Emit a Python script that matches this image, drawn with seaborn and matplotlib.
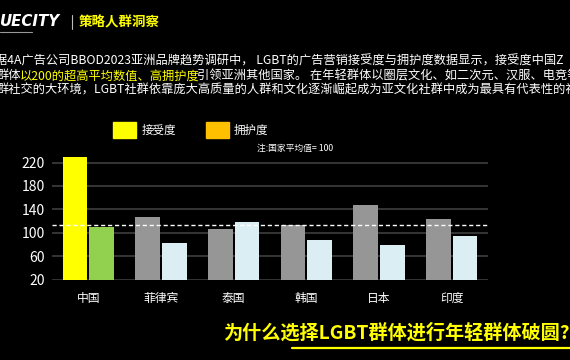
import pandas as pd
import seaborn as sns
import matplotlib.pyplot as plt
from matplotlib.patches import Patch
from matplotlib.lines import Line2D

# data
countries = ['中国', '菲律宾', '泰国', '韩国', '日本', '印度']
accept = [230, 126, 107, 113, 147, 123]
support = [110, 82, 118, 88, 79, 95]
avg_line = 114
yticks = [20, 60, 100, 140, 180, 220]

YELLOW = '#FFFF00'
ORANGE = '#FFC000'
GREEN = '#92D050'
GREY = '#969696'
LIGHT = '#DAEEF3'

df = pd.DataFrame({
    '国家': countries * 2,
    '指标': ['接受度'] * len(countries) + ['拥护度'] * len(countries),
    '值': accept + support,
})

sns.set_theme(style='dark')
plt.rcParams['font.family'] = ['Noto Sans CJK SC', 'DejaVu Sans']

fig = plt.figure(figsize=(5.7, 3.6), dpi=100)
fig.patch.set_facecolor('black')
ax = fig.add_axes([52 / 570, 0.2236, 436 / 570, 0.3575])
ax.set_facecolor('black')

sns.barplot(data=df, x='国家', y='值', hue='指标', palette=[GREY, LIGHT],
            width=0.74, gap=0.08, legend=False, ax=ax, saturation=1, linewidth=0)

# China gets its own colours
for p in ax.patches:
    cx = p.get_x() + p.get_width() / 2
    if cx < 0.5:
        p.set_facecolor(YELLOW if cx < 0 else GREEN)

ax.set_ylim(20, 240)
ax.set_xlim(-0.5, len(countries) - 0.5)
ax.set_yticks(yticks)
for v in yticks:
    ax.axhline(v, color='#3e3e3e', lw=1.2, zorder=0)
ax.axhline(avg_line, color='white', lw=1, ls=(0, (3, 2)), zorder=3)

ax.set_xlabel('')
ax.set_ylabel('')
ax.grid(False)
for s in ax.spines.values():
    s.set_visible(False)
ax.tick_params(axis='y', length=0, pad=5, labelsize=10, labelcolor='white')
ax.tick_params(axis='x', length=0, pad=9, labelsize=8.5, labelcolor='white')
for lab in ax.get_xticklabels():
    lab.set_fontweight('medium')

# legend
fig.legend(handles=[Patch(color=YELLOW, label='接受度'), Patch(color=ORANGE, label='拥护度')],
           loc='center left', bbox_to_anchor=(113 / 570, 1 - 130 / 360), ncol=2,
           frameon=False, fontsize=8.3, labelcolor='white', handlelength=2.0,
           handleheight=1.7, handletextpad=0.45, columnspacing=2.6,
           borderpad=0, borderaxespad=0)
fig.text(257 / 570, 1 - 148 / 360, '注:国家平均值= 100', color='white', fontsize=6.3,
         va='center', ha='left')

# header
fig.text(0, 1 - 22 / 360, 'UECITY', color='white', fontsize=10.8, fontweight='bold',
         fontstyle='italic', family='DejaVu Sans', va='center', ha='left')
fig.add_artist(Line2D([72 / 570, 72 / 570], [1 - 15 / 360, 1 - 29 / 360], color='#bbbbbb', lw=0.8))
fig.text(79 / 570, 1 - 22 / 360, '策略人群洞察', color=YELLOW, fontsize=9.7, fontweight='bold',
         va='center', ha='left')
fig.add_artist(Line2D([0, 32 / 570], [1 - 32 / 360, 1 - 32 / 360], color='#999999', lw=0.8))

# body text, the middle line has a yellow part
fs = 8.8
fw = 'medium'
fig.text(-5 / 570, 1 - 61 / 360,
         '据4A广告公司BBOD2023亚洲品牌趋势调研中， LGBT的广告营销接受度与拥护度数据显示，接受度中国Z',
         color='white', fontsize=fs, fontweight=fw, va='center', ha='left')
renderer = fig.canvas.get_renderer()
x = -3 / 570
for part, col in [('群体', 'white'), ('以200的超高平均数值、高拥护度', YELLOW),
                  ('引领亚洲其他国家。 在年轻群体以圈层文化、如二次元、汉服、电竞等', 'white')]:
    t = fig.text(x, 1 - 76 / 360, part, color=col, fontsize=fs, fontweight=fw,
                 va='center', ha='left')
    x += (t.get_window_extent(renderer).width - 2) / fig.bbox.width
fig.text(-3 / 570, 1 - 90 / 360,
         '群社交的大环境，LGBT社群依靠庞大高质量的人群和文化逐渐崛起成为亚文化社群中成为最具有代表性的社',
         color='white', fontsize=fs, fontweight=fw, va='center', ha='left')

# bottom title
fig.text(223 / 570, 1 - 333 / 360, '为什么选择LGBT群体进行年轻群体破圆?', color=YELLOW,
         fontsize=13.8, fontweight='bold', va='center', ha='left')
fig.add_artist(Line2D([292 / 570, 1], [1 - 348 / 360, 1 - 348 / 360], color=YELLOW, lw=1.6))

plt.savefig('out.png', dpi=100, facecolor='black')
